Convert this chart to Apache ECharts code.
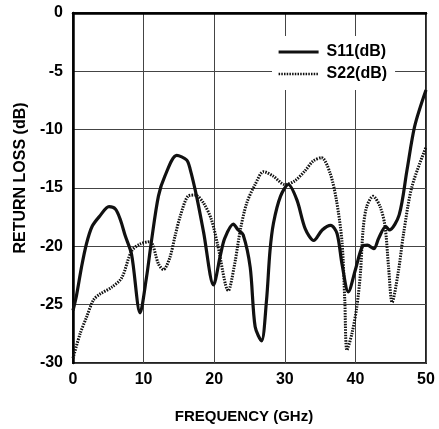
<!DOCTYPE html>
<html><head><meta charset="utf-8">
<script src="https://cdn.jsdelivr.net/npm/echarts@6/dist/echarts.min.js"></script>
<style>html,body{margin:0;padding:0;background:#fff}#c{width:439px;height:429px}</style>
</head><body><div id="c"></div>
<script>
const seriesNames = ['S11(dB)', 'S22(dB)'];
const xTicks = [0, 10, 20, 30, 40, 50];
const yTicks = [-30, -25, -20, -15, -10, -5, 0];

const s11Freq = [0, 0.5, 1.2, 1.9, 2.7, 3.8, 5.1, 6.0, 6.7, 7.4, 8.3, 9.5, 10.4, 11.1, 12.1, 13.0, 14.7, 16.1, 16.6, 17.5, 18.5, 19.9, 20.9, 21.5, 22.7, 23.4, 24.1, 25.1, 25.8, 26.7, 27.4, 27.9, 28.4, 29.4, 30.5, 31.7, 32.9, 34.1, 35.3, 36.5, 37.4, 38.1, 39.0, 40.0, 41.0, 41.7, 42.6, 43.3, 44.3, 44.8, 46.2, 47.3, 48.4, 50.0];
const s11Loss = [-25.5, -24.2, -21.8, -19.8, -18.3, -17.4, -16.6, -16.8, -17.7, -19.1, -20.7, -25.7, -22.7, -19.6, -15.7, -14.0, -12.2, -12.6, -13.4, -15.7, -18.8, -23.3, -20.7, -19.3, -18.1, -18.6, -19.0, -21.8, -26.9, -28.1, -24.7, -20.4, -18.0, -15.7, -14.7, -16.0, -18.5, -19.5, -18.6, -18.2, -18.9, -21.5, -23.9, -22.0, -20.0, -19.9, -20.2, -19.3, -18.3, -18.6, -17.3, -13.5, -9.7, -6.6];

const s22Freq = [0, 1.0, 1.9, 2.9, 3.8, 5.5, 6.9, 8.3, 9.5, 10.9, 12.1, 12.8, 13.7, 14.5, 15.2, 16.3, 17.3, 18.5, 19.6, 20.5, 22.0, 22.9, 23.7, 24.6, 25.8, 27.0, 28.4, 30.0, 31.4, 32.9, 34.0, 35.2, 36.4, 37.3, 38.1, 38.5, 38.8, 39.5, 40.2, 40.7, 41.1, 41.6, 42.5, 43.5, 44.2, 44.7, 45.2, 46.1, 46.8, 48.0, 50.0];
const s22Loss = [-29.6, -27.5, -26.1, -24.6, -24.1, -23.5, -22.7, -20.4, -19.8, -19.6, -21.5, -22.0, -21.0, -19.0, -17.4, -15.7, -15.6, -16.3, -17.7, -19.9, -23.8, -21.5, -18.6, -16.3, -14.7, -13.6, -14.0, -14.7, -14.4, -13.5, -12.7, -12.4, -13.7, -16.0, -19.6, -24.7, -28.9, -27.5, -25.2, -22.4, -18.5, -16.6, -15.7, -16.6, -18.3, -21.8, -24.8, -22.1, -19.0, -14.9, -11.5];

const FONT = "'Liberation Sans', Arial, sans-serif";
const pair = (xs, ys) => xs.map((x, i) => [x, ys[i]]);

const chart = echarts.init(document.getElementById('c'), null, {renderer: 'canvas'});
chart.setOption({
  animation: false,
  backgroundColor: '#fff',
  grid: {left: 73, right: 13, top: 13, bottom: 65, show: true, borderColor: '#222', borderWidth: 2, backgroundColor: 'transparent'},
  legend: {
    data: [
      {name: seriesNames[0], itemStyle: {opacity: 0}, lineStyle: {width: 3.2, color: '#111', type: 'solid'}},
      {name: seriesNames[1], itemStyle: {opacity: 0}, lineStyle: {width: 2.5, color: '#111', type: [1.5, 1.2]}}
    ],
    left: 272, top: 36,
    orient: 'vertical',
    backgroundColor: '#fff',
    padding: [8, 8, 8, 5],
    itemWidth: 40, itemHeight: 14, itemGap: 6,
    textStyle: {fontFamily: FONT, fontWeight: 'bold', fontSize: 16, color: '#000', padding: [0, 0, 0, 3]}
  },
  xAxis: {
    type: 'value', min: xTicks[0], max: xTicks[xTicks.length - 1], interval: 10,
    name: 'FREQUENCY (GHz)', nameLocation: 'middle', nameGap: 46,
    nameTextStyle: {fontFamily: FONT, fontWeight: 'bold', fontSize: 15, color: '#000', padding: [0, 11, 0, 0]},
    axisLine: {show: true, lineStyle: {color: '#000', width: 2.5}},
    axisTick: {show: false},
    axisLabel: {fontFamily: FONT, fontWeight: 'bold', fontSize: 16, color: '#000', margin: 9},
    splitLine: {show: true, lineStyle: {color: '#444', width: 1}}
  },
  yAxis: {
    type: 'value', min: yTicks[0], max: yTicks[yTicks.length - 1], interval: 5,
    name: 'RETURN LOSS (dB)', nameLocation: 'middle', nameGap: 43,
    nameTextStyle: {fontFamily: FONT, fontWeight: 'bold', fontSize: 16, color: '#000', padding: [0, 0, 0, 20]},
    axisLine: {show: true, onZero: false, lineStyle: {color: '#000', width: 2.5}},
    axisTick: {show: false},
    axisLabel: {fontFamily: FONT, fontWeight: 'bold', fontSize: 16, color: '#000', margin: 10},
    splitLine: {show: true, lineStyle: {color: '#444', width: 1}}
  },
  series: [
    {name: seriesNames[0], type: 'line', data: pair(s11Freq, s11Loss), symbol: 'none', smooth: 0.3,
     lineStyle: {color: '#111', width: 3.2, type: 'solid'}, itemStyle: {color: '#111'}, z: 3},
    {name: seriesNames[1], type: 'line', data: pair(s22Freq, s22Loss), symbol: 'none', smooth: 0.3,
     lineStyle: {color: '#111', width: 3, type: [1.5, 1.2]}, itemStyle: {color: '#111'}, z: 2}
  ]
});
</script></body></html>
